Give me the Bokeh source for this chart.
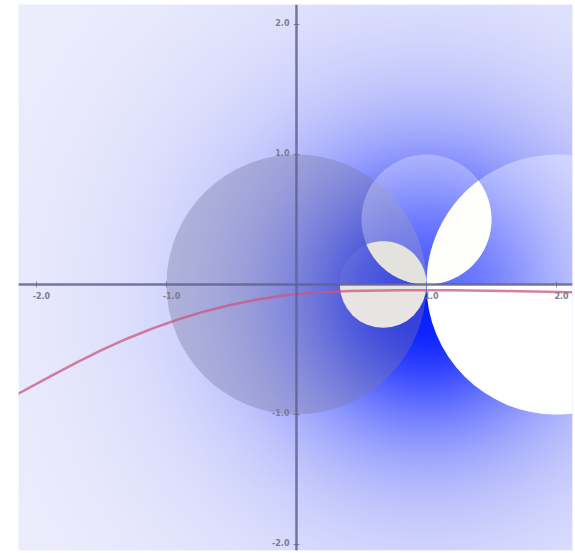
import numpy as np
from bokeh.plotting import figure
from bokeh.models import Span
from bokeh.core.properties import value
from bokeh.embed import file_html
from bokeh.resources import INLINE

# ---- view window (data units) ----
X_RANGE = (-2.138, 2.123)
Y_RANGE = (-2.046, 2.154)

# ---- axis ticks and labels ----
x_ticks = [-2.0, -1.0, 1.0, 2.0]
x_tick_labels = ["-2.0", "-1.0", "1.0", "2.0"]
y_ticks = [2.0, 1.0, -1.0, -2.0]
y_tick_labels = ["2.0", "1.0", "-1.0", "-2.0"]

# ---- discs: (center x, center y, radius) ----
unit_disc = (0.0, 0.0, 1.0)
upper_disc = (1.0, 0.5, 0.5)
right_disc = (2.0, 0.0, 1.0)
small_disc = (2.0 / 3.0, 0.0, 1.0 / 3.0)

# ---- red trajectory ----
curve_x = [-2.14, -1.9, -1.7, -1.5, -1.3, -1.1, -0.9, -0.7, -0.5, -0.3,
           -0.1, 0.1, 0.4, 0.8, 1.2, 1.6, 2.12]
curve_y = [-0.84, -0.71, -0.605, -0.505, -0.415, -0.335, -0.265, -0.205,
           -0.155, -0.115, -0.085, -0.065, -0.05, -0.045, -0.045, -0.05, -0.06]

# ---- background glow ----
GLOW_CENTER = (1.0, -0.1)
GLOW_RADIUS = 1.0
GLOW_POWER = 2.6
LIGHT_RGB = (244, 244, 252)
DEEP_RGB = (8, 30, 255)


def glow_image(nx=320, ny=320):
    xs = np.linspace(X_RANGE[0], X_RANGE[1], nx)
    ys = np.linspace(Y_RANGE[0], Y_RANGE[1], ny)
    gx, gy = np.meshgrid(xs, ys)
    d = np.hypot(gx - GLOW_CENTER[0], gy - GLOW_CENTER[1])
    t = 1.0 / (1.0 + (d / GLOW_RADIUS) ** GLOW_POWER)
    img = np.empty((ny, nx), dtype=np.uint32)
    view = img.view(dtype=np.uint8).reshape((ny, nx, 4))
    for k in range(3):
        view[:, :, k] = np.clip(LIGHT_RGB[k] * (1 - t) + DEEP_RGB[k] * t, 0, 255).astype(np.uint8)
    view[:, :, 3] = 255
    return img


def circle_intersections(c1, c2):
    x1, y1, r1 = c1
    x2, y2, r2 = c2
    dx, dy = x2 - x1, y2 - y1
    d = np.hypot(dx, dy)
    a = (r1 ** 2 - r2 ** 2 + d ** 2) / (2 * d)
    h = np.sqrt(max(r1 ** 2 - a ** 2, 0.0))
    mx, my = x1 + a * dx / d, y1 + a * dy / d
    return (mx + h * dy / d, my - h * dx / d), (mx - h * dy / d, my + h * dx / d)


def arc_inside(c, p_from, p_to, other, n=80):
    cx, cy, r = c
    a0 = np.arctan2(p_from[1] - cy, p_from[0] - cx)
    a1 = np.arctan2(p_to[1] - cy, p_to[0] - cx)
    span = (a1 - a0) % (2 * np.pi)
    mid = a0 + span / 2
    ox, oy, orad = other
    if np.hypot(cx + r * np.cos(mid) - ox, cy + r * np.sin(mid) - oy) > orad:
        span = span - 2 * np.pi
    ang = a0 + np.linspace(0, span, n)
    return list(cx + r * np.cos(ang)), list(cy + r * np.sin(ang))


def lens(c1, c2):
    p, q = circle_intersections(c1, c2)
    ax, ay = arc_inside(c1, p, q, c2)
    bx, by = arc_inside(c2, q, p, c1)
    return ax + bx, ay + by


p = figure(width=575, height=553, x_range=X_RANGE, y_range=Y_RANGE,
           output_backend="svg", toolbar_location=None,
           min_border_left=18, min_border_right=3, min_border_top=4,
           min_border_bottom=3)
p.xaxis.visible = False
p.yaxis.visible = False
p.xgrid.visible = False
p.ygrid.visible = False
p.outline_line_color = None
p.background_fill_color = "#f4f4fc"
p.border_fill_color = "white"

# background glow
p.image_rgba(image=[glow_image()], x=X_RANGE[0], y=Y_RANGE[0],
             dw=X_RANGE[1] - X_RANGE[0], dh=Y_RANGE[1] - Y_RANGE[0])

# translucent discs
p.circle(x=[unit_disc[0]], y=[unit_disc[1]], radius=unit_disc[2],
         fill_color="#7a7aa2", fill_alpha=0.38, line_color=None)
p.circle(x=[upper_disc[0]], y=[upper_disc[1]], radius=upper_disc[2],
         fill_color="white", fill_alpha=0.28, line_color=None)
p.circle(x=[right_disc[0]], y=[right_disc[1]], radius=right_disc[2],
         fill_color="white", fill_alpha=0.35, line_color=None)
p.circle(x=[small_disc[0]], y=[small_disc[1]], radius=small_disc[2],
         fill_color="white", fill_alpha=0.06, line_color=None)

# solid lobes
p.wedge(x=[right_disc[0]], y=[right_disc[1]], radius=right_disc[2],
        start_angle=np.pi, end_angle=2 * np.pi,
        fill_color="white", line_color=None)
lx, ly = lens(right_disc, upper_disc)
p.patch(lx, ly, fill_color="#fefefb", line_color=None)
sx, sy = lens(small_disc, upper_disc)
p.patch(sx, sy, fill_color="#e4e2dc", line_color=None)
p.wedge(x=[small_disc[0]], y=[small_disc[1]], radius=small_disc[2],
        start_angle=np.pi, end_angle=2 * np.pi,
        fill_color="#e8e4e4", line_color=None)

# coordinate axes
axis_color = "#62628f"
p.add_layout(Span(location=0, dimension="width", line_color=axis_color,
                  line_width=2.5, line_alpha=0.85))
p.add_layout(Span(location=0, dimension="height", line_color=axis_color,
                  line_width=2.5, line_alpha=0.85))
p.scatter(x=x_ticks, y=[0] * len(x_ticks), marker="dash", angle=np.pi / 2,
          size=6, line_color=axis_color, line_alpha=0.7)
p.scatter(x=[0] * len(y_ticks), y=y_ticks, marker="dash",
          size=6, line_color=axis_color, line_alpha=0.7)

# trajectory
p.line(curve_x, curve_y, line_color="#c8587e", line_width=2.5,
       line_alpha=0.75, line_join="round")

# tick labels
p.text(x=x_ticks, y=[0] * len(x_ticks), text=x_tick_labels,
       text_font=value("DejaVu Sans"), text_font_size="8px",
       text_font_style="bold", text_color="#7c7c90",
       text_align="center", text_baseline="top", x_offset=5, y_offset=7)
p.text(x=[0] * len(y_ticks), y=y_ticks, text=y_tick_labels,
       text_font=value("DejaVu Sans"), text_font_size="8px",
       text_font_style="bold", text_color="#7c7c90",
       text_align="right", text_baseline="middle", x_offset=-7, y_offset=-2)

open("out.html", "w").write(file_html(p, INLINE))
